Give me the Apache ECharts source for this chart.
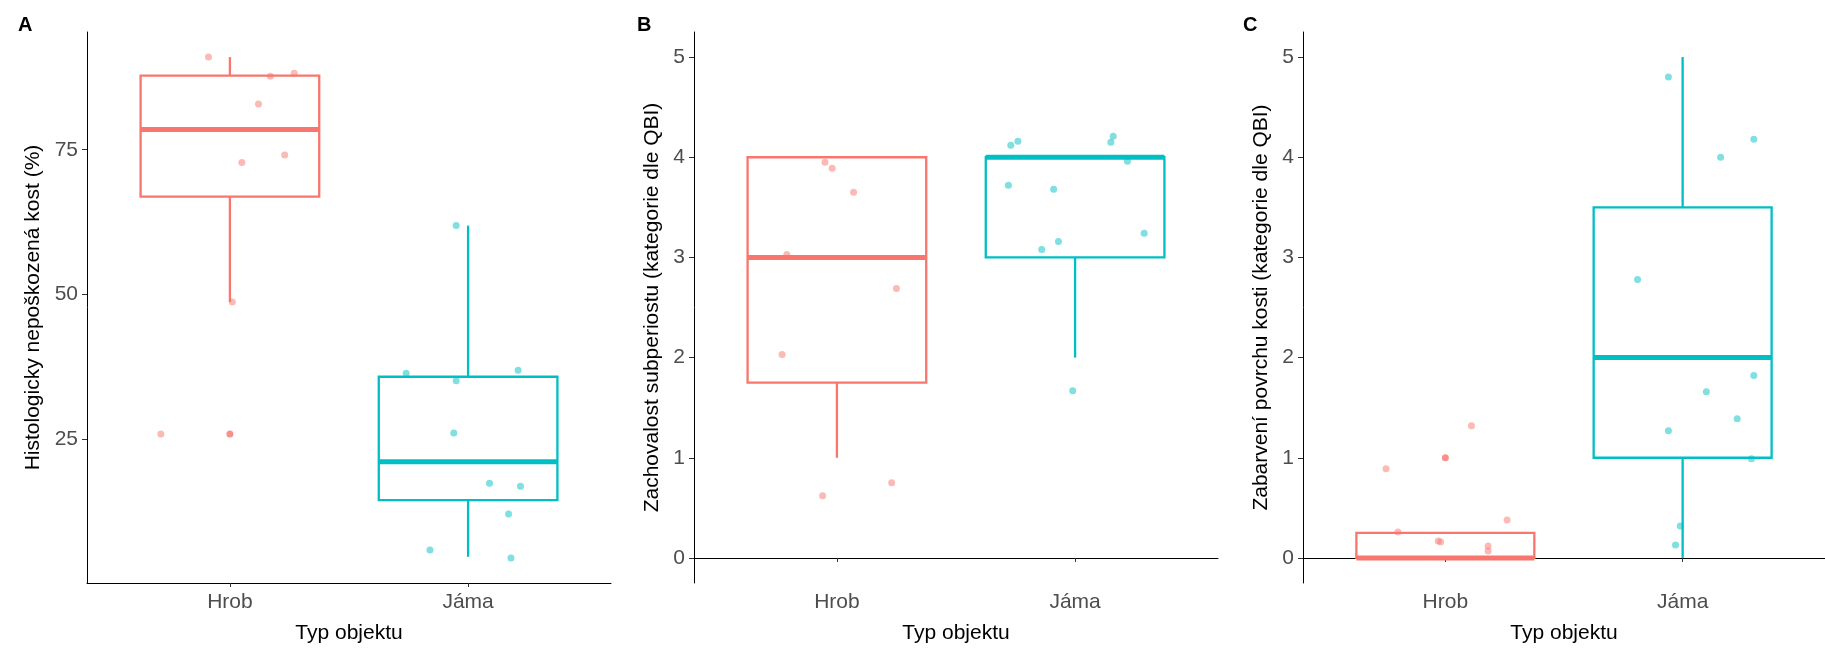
<!DOCTYPE html>
<html>
<head>
<meta charset="utf-8">
<script src="https://cdn.jsdelivr.net/npm/echarts@6/dist/echarts.min.js"></script>
<style>
  html, body { margin: 0; padding: 0; background: #fff; }
  #chart { width: 1825px; height: 649px; }
</style>
</head>
<body>
<div id="chart"></div>
<script>
const categories = ['Hrob', 'Jáma'];
const colors = ['#F8766D', '#00BFC4'];

// box stats per category: [min, Q1, median, Q3, max]
const boxA = [[48.7, 66.9, 78.5, 87.8, 91.0], [4.7, 14.5, 21.1, 35.8, 61.9]];
const boxB = [[1, 1.75, 3, 4, 4], [2, 3, 4, 4, 4]];
const boxC = [[0, 0, 0, 0.25, 0.25], [0, 1, 2, 3.5, 5]];

// outliers: [category position, value]
const outA = [[1, 25.9]];
const outB = [];
const outC = [[1, 1.0]];

// jittered points: [x position, value]
const hrobA = [[0.91, 91.0], [1.17, 87.7], [1.27, 88.2], [1.12, 82.9], [1.23, 74.1], [1.05, 72.8], [1.01, 48.7], [0.71, 25.9]];
const jamaA = [[1.95, 61.9], [1.74, 36.4], [1.95, 35.1], [2.21, 36.9], [1.94, 26.1], [2.09, 17.4], [2.22, 16.9], [2.17, 12.1], [1.84, 5.9], [2.18, 4.5]];
const hrobB = [[0.95, 3.95], [0.98, 3.89], [1.07, 3.65], [0.79, 3.03], [1.25, 2.69], [0.77, 2.03], [0.94, 0.62], [1.23, 0.75]];
const jamaB = [[1.73, 4.12], [1.76, 4.16], [2.15, 4.15], [2.16, 4.21], [2.22, 3.96], [1.72, 3.72], [1.91, 3.68], [1.86, 3.08], [1.93, 3.16], [2.29, 3.24], [1.99, 1.67]];
const hrobC = [[0.75, 0.89], [1.11, 1.32], [0.80, 0.26], [0.97, 0.17], [0.98, 0.16], [1.18, 0.12], [1.18, 0.07], [1.26, 0.38]];
const jamaC = [[1.94, 4.80], [2.30, 4.18], [2.16, 4.00], [1.81, 2.78], [2.30, 1.82], [2.10, 1.66], [2.23, 1.39], [1.94, 1.27], [2.29, 0.99], [1.99, 0.32], [1.97, 0.13]];

const ticksA = [25, 50, 75];
const ticksBC = [0, 1, 2, 3, 4, 5];

const panels = [
  { label: 'A', labelLeft: 13, left: 87, width: 524, yMin: 0.18, yMax: 95.33, ticks: ticksA,
    title: 'Histologicky nepoškozená kost (%)', nameGap: 43, box: boxA, out: outA, hrob: hrobA, jama: jamaA },
  { label: 'B', labelLeft: 632, left: 694, width: 524, yMin: -0.25, yMax: 5.25, ticks: ticksBC,
    title: 'Zachovalost subperiostu (kategorie dle QBI)', nameGap: 31, box: boxB, out: outB, hrob: hrobB, jama: jamaB },
  { label: 'C', labelLeft: 1238, left: 1303, width: 524, yMin: -0.25, yMax: 5.25, ticks: ticksBC,
    title: 'Zabarvení povrchu kosti (kategorie dle QBI)', nameGap: 31, box: boxC, out: outC, hrob: hrobC, jama: jamaC },
];

const FONT = '"Liberation Sans", Arial, sans-serif';
const HALF = 0.375;

function renderBox(params, api) {
  const x = api.value(0);
  const lo = api.value(1), q1 = api.value(2), med = api.value(3), q3 = api.value(4), hi = api.value(5);
  const color = colors[api.value(6)];
  const tl = api.coord([x - HALF, q3]);
  const br = api.coord([x + HALF, q1]);
  const line = (a, b, w) => ({
    type: 'line',
    shape: { x1: a[0], y1: a[1], x2: b[0], y2: b[1] },
    style: { stroke: color, lineWidth: w }
  });
  return {
    type: 'group',
    children: [
      line(api.coord([x, q3]), api.coord([x, hi]), 2.3),
      line(api.coord([x, q1]), api.coord([x, lo]), 2.3),
      {
        type: 'rect',
        shape: { x: tl[0], y: tl[1], width: br[0] - tl[0], height: br[1] - tl[1] },
        style: { fill: '#fff', stroke: color, lineWidth: 2.3 }
      },
      line(api.coord([x - HALF, med]), api.coord([x + HALF, med]), 5)
    ]
  };
}

const grid = [], xAxis = [], yAxis = [], series = [], title = [];

panels.forEach((p, i) => {
  title.push({ text: p.label, left: p.labelLeft, top: 10,
    textStyle: { fontFamily: FONT, fontSize: 20, fontWeight: 'bold', color: '#000' } });
  grid.push({ left: p.left, top: 32, width: p.width, height: 552 });
  xAxis.push({
    gridIndex: i, type: 'value', min: 0.4, max: 2.6,
    name: 'Typ objektu', nameLocation: 'middle', nameGap: 40,
    nameTextStyle: { fontFamily: FONT, fontSize: 21, color: '#000' },
    splitLine: { show: false },
    axisLine: { show: true, lineStyle: { color: '#000', width: 1 } },
    axisTick: { show: true, customValues: [1, 2], length: 4, lineStyle: { color: '#333' } },
    axisLabel: { customValues: [1, 2], margin: 9, fontFamily: FONT, fontSize: 21, color: '#4D4D4D',
      formatter: (v) => categories[Math.round(v) - 1] }
  });
  yAxis.push({
    gridIndex: i, type: 'value', min: p.yMin, max: p.yMax,
    name: p.title, nameLocation: 'middle', nameGap: p.nameGap,
    nameTextStyle: { fontFamily: FONT, fontSize: 21, color: '#000' },
    splitLine: { show: false },
    axisLine: { show: true, lineStyle: { color: '#000', width: 1 } },
    axisTick: { show: true, customValues: p.ticks, length: 5, lineStyle: { color: '#333' } },
    axisLabel: { customValues: p.ticks, margin: 9, fontFamily: FONT, fontSize: 21, color: '#4D4D4D' }
  });

  series.push({
    type: 'custom', xAxisIndex: i, yAxisIndex: i, renderItem: renderBox,
    data: p.box.map((b, k) => [k + 1, ...b, k])
  });
  series.push({
    type: 'scatter', xAxisIndex: i, yAxisIndex: i, symbolSize: 7,
    itemStyle: { color: colors[0] }, data: p.out
  });
  series.push({
    type: 'scatter', xAxisIndex: i, yAxisIndex: i, symbolSize: 7,
    itemStyle: { color: colors[0], opacity: 0.5 }, data: p.hrob
  });
  series.push({
    type: 'scatter', xAxisIndex: i, yAxisIndex: i, symbolSize: 7,
    itemStyle: { color: colors[1], opacity: 0.5 }, data: p.jama
  });
});

const chart = echarts.init(document.getElementById('chart'));
chart.setOption({
  animation: false,
  backgroundColor: '#fff',
  title, grid, xAxis, yAxis, series
});
</script>
</body>
</html>
